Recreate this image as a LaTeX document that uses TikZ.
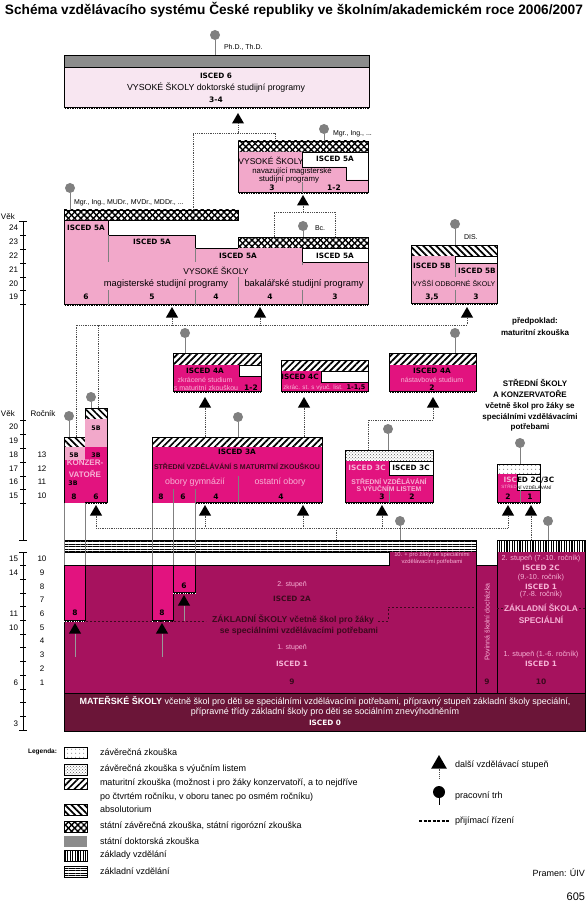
\documentclass[tikz,border=0pt]{standalone}
\usepackage{fontspec}
\setmainfont{Liberation Sans}
\newfontfamily\hv{DejaVu Sans}
\usetikzlibrary{patterns,patterns.meta,shapes.geometric}
\definecolor{pkA}{HTML}{F8E6F1}
\definecolor{pkL}{HTML}{F2A8CA}
\definecolor{mag}{HTML}{E2137F}
\definecolor{berry}{HTML}{A6125E}
\definecolor{maroon}{HTML}{6B1538}
\definecolor{gbar}{HTML}{8C8C8C}
\definecolor{gdot}{HTML}{808080}
\definecolor{ltx}{HTML}{F7B3D6}
\definecolor{dtx}{HTML}{3C0A1E}
\tikzset{
  x=1pt, y=-1pt,
  every node/.style={inner sep=0pt, outer sep=0pt},
  ol/.style={draw=black, line width=0.9pt},
  div/.style={draw=black!50, line width=0.5pt},
  tri/.style={regular polygon, regular polygon sides=3, fill=black, minimum size=14pt},
  pnt/.style={circle, fill=gdot, minimum size=10pt},
  stalk/.style={draw=gdot, line width=0.8pt},
  conn/.style={draw=black!70, line width=0.7pt, dash pattern=on 0.7pt off 1.1pt},
  dsh/.style={draw=dtx, line width=0.6pt, dash pattern=on 2pt off 2pt},
  axl/.style={draw=black, line width=0.9pt},
  isc/.style={font=\hv\bfseries\fontsize{7.3}{8}\selectfont},
  num/.style={font=\hv\bfseries\fontsize{7.5}{8}\selectfont},
  nm/.style={font=\fontsize{8.5}{9}\selectfont},
  pg/.style={font=\fontsize{9.3}{10}\selectfont},
  sm/.style={font=\fontsize{7}{8}\selectfont},
  lab/.style={font=\fontsize{7}{8}\selectfont, anchor=west},
  ax/.style={font=\fontsize{8}{9}\selectfont},
  leg/.style={font=\fontsize{9}{10}\selectfont, anchor=west},
  sb/.style={font=\bfseries\fontsize{8}{9}\selectfont},
  mat/.style={pattern={Lines[angle=45,distance=4.6pt,line width=1.7pt]}},
  absl/.style={pattern={Lines[angle=-45,distance=4.6pt,line width=1.7pt]}},
  vlin/.style={pattern={Lines[angle=90,distance=2.6pt,line width=1.2pt]}},
  hlin/.style={pattern={Lines[angle=0,distance=2.4pt,line width=0.9pt]}},
  sdot/.style={pattern={Dots[distance=4pt,radius=0.5pt]}, pattern color=black!70},
  cdot/.style={pattern=crosshatch dots, pattern color=black!65},
}
\newcommand\perf[3]{\draw[line width=2.4pt] (#1,#3) -- (#2,#3);
  \draw[white,line width=0.8pt,dash pattern=on 0.8pt off 1.6pt] (#1,#3+0.3) -- (#2,#3+0.3);}
\newcommand\patbar[5]{\fill[white] (#1,#2) rectangle (#3,#4); \fill[#5] (#1,#2) rectangle (#3,#4); \draw[ol] (#1,#2) rectangle (#3,#4);}
\newcommand\xbar[4]{\fill[white] (#1,#2) rectangle (#3,#4);
  \fill[pattern={Lines[angle=45,distance=4.4pt,line width=1.4pt]}] (#1,#2) rectangle (#3,#4);
  \fill[pattern={Lines[angle=-45,distance=4.4pt,line width=1.4pt]}] (#1,#2) rectangle (#3,#4);
  \draw[ol] (#1,#2) rectangle (#3,#4);}
\newcommand\uparr[3]{\node[tri] (#1) at (#2,#3+7) {};}
\newcommand\pnt[3]{\node[pnt] (#1) at (#2,#3) {};}
\begin{document}
\begin{tikzpicture}
\useasboundingbox (0,0) rectangle (586,909);
\fill[white] (0,0) rectangle (586,909);

% title
\node (title) at (294,10) {\resizebox{578pt}{!}{\bfseries Schéma vzdělávacího systému České republiky ve školním/akademickém roce 2006/2007}};

% ---------- ISCED 6
\fill[gbar] (64,55) rectangle (369,67);
\fill[pkA] (64,67) rectangle (369,108);
\draw[ol] (64,55) rectangle (369,108);
\draw[ol] (64,67) -- (369,67);
\perf{64}{369}{108}
\node[isc] (i6) at (216,76) {ISCED 6};
\node[nm,font=\fontsize{8.8}{9}\selectfont] (i6n) at (216,88) {VYSOKÉ ŠKOLY doktorské studijní programy};
\node[num] (i6y) at (216,100) {3-4};
\pnt{c6}{215}{35}
\draw[stalk] (c6) -- (215,55);
\node[lab] (l6) at (224,47) {Ph.D., Th.D.};
\uparr{A6}{238}{113}

% ---------- 5A navazujici
\xbar{238}{141}{368}{152}
\fill[pkL] (238,152) -- (302,152) -- (302,167) -- (346,167) -- (346,180) -- (368,180) -- (368,193) -- (238,193) -- cycle;
\draw[ol] (238,141) -- (238,193);
\draw[ol] (368,141) -- (368,193);
\draw[ol] (302,152) -- (302,167) -- (346,167) -- (346,180) -- (368,180);
\perf{238}{368}{193}
\draw[div] (302,182) -- (302,193);
\node[nm] (n5t) at (271,161) {VYSOKÉ ŠKOLY};
\node[isc] (n5i) at (335,159) {ISCED 5A};
\node[sm,font=\fontsize{7.8}{8}\selectfont] (n5a) at (292,171) {navazující magisterské};
\node[sm,font=\fontsize{7.8}{8}\selectfont] (n5b) at (289,179) {studijní programy};
\node[num] (n5y1) at (272,188) {3};
\node[num] (n5y2) at (334,188) {1-2};
\pnt{c5n}{324}{129}
\draw[stalk] (c5n) -- (324,141);
\node[lab] (l5n) at (333,134) {Mgr., Ing., ...};
\uparr{A5n}{303}{195}

% ---------- VS main
\xbar{64}{210}{238}{220}
\xbar{238}{237}{368}{248}
\fill[pkL] (64,220) -- (108,220) -- (108,235) -- (195,235) -- (195,248) -- (302,248) -- (302,262) -- (368,262) -- (368,305) -- (64,305) -- cycle;
\draw[ol] (64,220) -- (108,220) -- (108,235) -- (195,235) -- (195,248) -- (238,248);
\draw[ol] (302,248) -- (302,262) -- (368,262);
\draw[ol] (64,210) -- (64,305);
\draw[ol] (368,237) -- (368,305);
\perf{64}{368}{305}
\draw[div] (108,235) -- (108,262) (108,290) -- (108,305);
\draw[div] (195,248) -- (195,262) (195,290) -- (195,305);
\draw[div] (238,277) -- (238,305);
\draw[div] (302,262) -- (302,265) (302,290) -- (302,305);
\node[isc] (v1) at (86,228) {ISCED 5A};
\node[isc] (v2) at (152,242) {ISCED 5A};
\node[isc] (v3) at (238,256) {ISCED 5A};
\node[isc] (v4) at (335,256) {ISCED 5A};
\node[nm] (vn) at (216,271) {VYSOKÉ ŠKOLY};
\node[pg] (vm) at (166,284) {magisterské studijní programy};
\node[pg] (vb) at (304,284) {bakalářské studijní programy};
\node[num] (vy1) at (86,297) {6};
\node[num] (vy2) at (152,297) {5};
\node[num] (vy3) at (216,297) {4};
\node[num] (vy4) at (270,297) {4};
\node[num] (vy5) at (335,297) {3};
\pnt{cvs}{70}{188}
\draw[stalk] (cvs) -- (70,210);
\node[lab] (lvs) at (74,203) {Mgr., Ing., MUDr., MVDr., MDDr., ...};
\pnt{cbc}{303}{226}
\draw[stalk] (cbc) -- (303,237);
\node[lab] (lbc) at (315,228) {Bc.};

% ---------- VOS
\patbar{411}{245}{497}{256}{absl}
\fill[pkL] (411,256) -- (455,256) -- (455,263) -- (497,263) -- (497,304) -- (411,304) -- cycle;
\draw[ol] (411,245) -- (411,304);
\draw[ol] (497,245) -- (497,304);
\draw[ol] (455,256) -- (455,263) -- (497,263);
\perf{411}{497}{304}
\draw[div] (455,263) -- (455,277) (455,290) -- (455,304);
\node[isc] (o1) at (432,266) {ISCED 5B};
\node[isc] (o2) at (477,271) {ISCED 5B};
\node[sm] (on) at (454,283) {VYŠŠÍ ODBORNÉ ŠKOLY};
\node[num] (oy1) at (432,297) {3,5};
\node[num] (oy2) at (476,297) {3};
\pnt{cvos}{455}{224}
\draw[stalk] (cvos) -- (455,245);
\node[lab] (lvos) at (464,237) {DIS.};

% arrows below VS / VOS
\uparr{Av1}{172}{307}
\uparr{Av2}{260}{307}
\uparr{Avo}{467}{307}

\node[sb] (pr1) at (535,321) {předpoklad:};
\node[sb] (pr2) at (535,333) {maturitní zkouška};

% ---------- 4A zkracene
\patbar{173}{353}{261}{365}{mat}
\fill[mag] (173,365) -- (239,365) -- (239,376) -- (261,376) -- (261,392) -- (173,392) -- cycle;
\draw[ol] (173,353) -- (173,392);
\draw[ol] (261,353) -- (261,392);
\draw[ol] (239,365) -- (239,376) -- (261,376);
\perf{173}{261}{392}
\node[isc] (a1) at (205,371) {ISCED 4A};
\node[sm,ltx] (a2) at (205,380) {zkrácené studium};
\node[sm,ltx] (a3) at (206,388) {s maturitní zkouškou};
\node[num] (a4) at (251,388) {1-2};
\pnt{c4a}{185}{333}
\draw[stalk] (c4a) -- (185,353);
\uparr{A4a}{205}{397}

% ---------- 4C
\patbar{281}{360}{368}{371}{mat}
\fill[mag] (281,371) -- (321,371) -- (321,382) -- (368,382) -- (368,392) -- (281,392) -- cycle;
\draw[ol] (281,360) -- (281,392);
\draw[ol] (368,360) -- (368,392);
\draw[ol] (321,371) -- (321,382) -- (368,382);
\perf{281}{368}{392}
\node[isc] (b1) at (300,377) {ISCED 4C};
\node[sm,ltx,font=\fontsize{6.3}{7}\selectfont] (b2) at (313,388) {zkrác. st. s výuč. list.};
\node[num,font=\hv\bfseries\fontsize{6.5}{7}\selectfont] (b3) at (356,388) {1-1,5};
\uparr{A4c}{304}{397}

% ---------- 4A nastavbove
\patbar{389}{353}{476}{365}{mat}
\fill[mag] (389,365) rectangle (476,392);
\draw[ol] (389,353) -- (389,392);
\draw[ol] (476,353) -- (476,392);
\perf{389}{476}{392}
\node[isc] (d1) at (432,371) {ISCED 4A};
\node[sm,ltx] (d2) at (432,380) {nástavbové studium};
\node[num] (d3) at (432,388) {2};
\pnt{c4n}{455}{333}
\draw[stalk] (c4n) -- (455,353);
\uparr{A4n}{433}{397}

% SS heading
\node[sb] (s1) at (535,383) {STŘEDNÍ ŠKOLY};
\node[sb] (s2) at (530,394) {A KONZERVATOŘE};
\node[sb] (s3) at (530,406) {včetně škol pro žáky se};
\node[sb] (s4) at (530,417) {speciálními vzdělávacími};
\node[sb] (s5) at (530,427) {potřebami};

% ---------- konzervatore
\patbar{64}{437}{85}{447}{absl}
\patbar{85}{408}{107}{419}{absl}
\fill[pkL] (64,447) rectangle (85,460);
\fill[mag] (64,460) rectangle (85,503);
\fill[pkL] (85,419) rectangle (107,447);
\fill[mag] (85,447) rectangle (107,503);
\draw[ol] (64,437) -- (64,503);
\draw[ol] (107,408) -- (107,503);
\perf{85}{107}{503}
\node[num,font=\hv\bfseries\fontsize{6.3}{7}\selectfont] (k1) at (96,428) {5B};
\node[num,font=\hv\bfseries\fontsize{6.3}{7}\selectfont] (k2) at (74,455) {5B};
\node[num,font=\hv\bfseries\fontsize{6.3}{7}\selectfont] (k3) at (96,455) {3B};
\node[sb,ltx] (k4) at (85,463) {KONZER-};
\node[sb,ltx] (k5) at (85,474) {VATOŘE};
\node[num,font=\hv\bfseries\fontsize{6.3}{7}\selectfont] (k6) at (73,483) {3B};
\node[num] (k7) at (74,497) {8};
\node[num] (k8) at (96,497) {6};
\pnt{ck1}{69}{416}
\draw[stalk] (ck1) -- (69,437);
\pnt{ck2}{91}{397}
\draw[stalk] (ck2) -- (91,408);

% ---------- 3A
\patbar{152}{437}{322}{447}{mat}
\fill[mag] (152,447) rectangle (322,503);
\draw[ol] (152,437) -- (152,503);
\draw[ol] (322,437) -- (322,503);
\perf{195}{322}{503}
\draw[div] (238,476) -- (238,503);
\node[isc] (e1) at (237,452) {ISCED 3A};
\node[font=\bfseries\fontsize{7}{8}\selectfont, dtx] (e2) at (237,466) {STŘEDNÍ VZDĚLÁVÁNÍ S MATURITNÍ ZKOUŠKOU};
\node[pg,ltx,font=\fontsize{8.8}{9}\selectfont] (e3) at (195,482) {obory gymnázií};
\node[pg,ltx,font=\fontsize{8.8}{9}\selectfont] (e4) at (280,482) {ostatní obory};
\node[num] (e5) at (161,497) {8};
\node[num] (e6) at (183,497) {6};
\node[num] (e7) at (216,497) {4};
\node[num] (e8) at (281,497) {4};
\pnt{c3a}{238}{417}
\draw[stalk] (c3a) -- (238,437);

% ---------- 3C
\patbar{345}{450}{433}{461}{cdot}
\fill[mag] (345,461) -- (389,461) -- (389,475) -- (433,475) -- (433,503) -- (345,503) -- cycle;
\draw[ol] (345,450) -- (345,503);
\draw[ol] (433,450) -- (433,503);
\draw[ol] (389,461) -- (389,475) -- (433,475);
\perf{345}{433}{503}
\draw[div] (389,490) -- (389,503);
\node[isc,ltx] (f1) at (367,468) {ISCED 3C};
\node[isc] (f2) at (411,468) {ISCED 3C};
\node[font=\bfseries\fontsize{6.8}{7}\selectfont, ltx] (f3) at (389,481) {STŘEDNÍ VZDĚLÁVÁNÍ};
\node[font=\bfseries\fontsize{6.8}{7}\selectfont, ltx] (f4) at (389,488) {S VÝUČNÍM LISTEM};
\node[num] (f5) at (382,497) {3};
\node[num] (f6) at (412,497) {2};
\pnt{c3c}{388}{429}
\draw[stalk] (c3c) -- (388,450);

% ---------- 2C/3C
\patbar{497}{464}{540}{474}{sdot}
\fill[mag] (497,474) -- (517,474) -- (517,490) -- (540,490) -- (540,503) -- (497,503) -- cycle;
\draw[ol] (497,464) -- (497,503);
\draw[ol] (540,464) -- (540,503);
\draw[ol] (517,474) -- (517,490) -- (540,490);
\perf{497}{540}{503}
\draw[div] (520,490) -- (520,503);
\node[isc,ltx,anchor=east] (g1) at (517,480) {ISC};
\node[isc,anchor=west] (g2) at (517,480) {ED 2C/3C};
\node[ltx,anchor=east,font=\fontsize{4.6}{5}\selectfont] (g3) at (517,487) {STŘED};
\node[anchor=west,font=\fontsize{4.6}{5}\selectfont] (g4) at (517,487) {NÍ VZDĚLÁVÁNÍ};
\node[num] (g5) at (508,497) {2};
\node[num] (g6) at (530,497) {1};
\pnt{c2c}{520}{443}
\draw[stalk] (c2c) -- (520,464);

% SS arrows
\uparr{Ak}{96}{505}
\uparr{A3a}{205}{505}
\uparr{A3o}{303}{505}
\uparr{A3c}{382}{505}
\uparr{A2a}{508}{505}
\uparr{A2b}{531}{505}
\pnt{czs}{400}{521}
\draw[stalk] (czs) -- (400,540);
\pnt{czss}{548}{521}
\draw[stalk] (czss) -- (548,540);

% ---------- ZS bars
\patbar{64}{540}{476}{552}{hlin}
\patbar{497}{540}{585}{552}{vlin}
\draw[div] (64,503) -- (64,565) (85,503) -- (85,565) (152,503) -- (152,565) (173,489) -- (173,565) (195,489) -- (195,565);

% ---------- ZS block
\fill[berry] (64,565) -- (389,565) -- (389,552) -- (476,552) -- (476,693) -- (64,693) -- cycle;
\fill[berry] (476,565) rectangle (497,693);
\fill[berry] (497,552) rectangle (585,693);
\fill[mag] (64,565) rectangle (85,621);
\fill[mag] (152,565) rectangle (173,621);
\fill[mag] (173,565) rectangle (195,593);
\draw[ol] (64,693) -- (64,565) -- (389,565) -- (389,552);
\draw[ol] (476,552) -- (476,693);
\draw[ol] (476,565) -- (497,565);
\draw[ol] (497,552) -- (497,693);
\draw[ol] (585,552) -- (585,693);
\draw[line width=0.6pt] (85,565) -- (85,621) (152,565) -- (152,621) (173,565) -- (173,621) (195,565) -- (195,593);
\perf{64}{85}{621}
\perf{152}{173}{621}
\perf{173}{195}{593}
\draw[dsh] (86,621) -- (206,621);
\draw[dsh] (378,621) -- (388,621) -- (388,607) -- (476,607);
\draw[dsh] (497,608) -- (503,608) (579,608) -- (585,608);
\node[num] (z1) at (75,613) {8};
\node[num] (z2) at (162,613) {8};
\node[num] (z3) at (184,586) {6};
\uparr{Az1}{75}{623}
\uparr{Az2}{162}{623}
\uparr{Az3}{184}{595}
\draw[div,draw=black!40] (Az1.south) -- (75,657) (Az2.south) -- (162,657) (Az3.south) -- (184,621);
\node[ltx,font=\fontsize{5.8}{6.3}\selectfont,align=center] (z10) at (432,558.5) {10. + pro žáky se speciálními\\vzdělávacími potřebami};
\node[ltx,font=\fontsize{7}{8}\selectfont] (z4) at (292,585) {2. stupeň};
\node[isc,dtx] (z5) at (292,599) {ISCED 2A};
\node[font=\bfseries\fontsize{8.6}{9}\selectfont, dtx] (z6) at (293,620) {ZÁKLADNÍ ŠKOLY včetně škol pro žáky};
\node[font=\bfseries\fontsize{8.6}{9}\selectfont, dtx] (z7) at (299,631) {se speciálními vzdělávacími potřebami};
\node[ltx,font=\fontsize{7}{8}\selectfont] (z8) at (292,648) {1. stupeň};
\node[isc,ltx] (z9) at (292,664) {ISCED 1};
\node[num,dtx] (z11) at (292,682) {9};
\node[ltx,font=\fontsize{7}{8}\selectfont,rotate=90] (pov) at (487,622) {Povinná školní docházka};
\node[num,dtx] (z12) at (487,682) {9};
\node[ltx,font=\fontsize{7.3}{8}\selectfont] (p1) at (541,559) {2. stupeň (7.-10. ročník)};
\node[isc,ltx] (p2) at (541,568) {ISCED 2C};
\node[ltx,font=\fontsize{7.3}{8}\selectfont] (p3) at (541,578) {(9.-10. ročník)};
\node[isc,ltx] (p4) at (541,587) {ISCED 1};
\node[ltx,font=\fontsize{7.3}{8}\selectfont] (p5) at (541,595) {(7.-8. ročník)};
\node[ltx,font=\bfseries\fontsize{8.3}{9}\selectfont] (p6) at (541,608) {ZÁKLADNÍ ŠKOLA};
\node[ltx,font=\bfseries\fontsize{8.3}{9}\selectfont] (p7) at (541,620) {SPECIÁLNÍ};
\node[ltx,font=\fontsize{7.3}{8}\selectfont] (p8) at (541,655) {1. stupeň (1.-6. ročník)};
\node[isc,ltx] (p9) at (541,664) {ISCED 1};
\node[num,dtx] (p10) at (541,682) {10};

% ---------- MS
\fill[maroon] (64,693) rectangle (585,731);
\draw[ol] (64,693) rectangle (585,731);
\node[white,font=\fontsize{9}{10}\selectfont] (m1) at (325,701) {\textbf{MATEŘSKÉ ŠKOLY} včetně škol pro děti se speciálními vzdělávacími potřebami, přípravný stupeň základní školy speciální,};
\node[white,font=\fontsize{9}{10}\selectfont] (m2) at (325,712) {přípravné třídy základní školy pro děti se sociálním znevýhodněním};
\node[white,isc] (m3) at (325,723) {ISCED 0};

% ---------- connectors
\coordinate (q1) at (193,133);
\coordinate (q2) at (275,133);
\draw[conn] (A6.south) -- (A6.south |- q1);
\draw[conn] (193,210) -- (q1) -- (q2) -- (275,141);
\coordinate (q3) at (274,212);
\coordinate (q4) at (335,212);
\draw[conn] (A5n.south) -- (A5n.south |- q3);
\draw[conn] (274,237) -- (q3) -- (q4) -- (335,237);
\coordinate (q5) at (76,325);
\coordinate (q6) at (467,325);
\draw[conn] (76,437) -- (q5) -- (q6) -- (Avo.south);
\draw[conn] (Av1.south) -- (Av1.south |- q5);
\draw[conn] (Av2.south) -- (Av2.south |- q5);
\draw[conn] (98,408) -- (98,325);
\draw[conn] (A4a.south) -- (205,437);
\draw[conn] (A4c.south) -- (304,437);
\coordinate (q7) at (433,420);
\coordinate (q8) at (368,420);
\draw[conn] (A4n.south) -- (q7) -- (q8) -- (368,450);
\coordinate (q9) at (96,528);
\coordinate (q10) at (508,528);
\draw[conn] (Ak.south) -- (q9) -- (q10) -- (A2a.south);
\draw[conn] (A3a.south) -- (A3a.south |- q9);
\draw[conn] (A3o.south) -- (A3o.south |- q9);
\draw[conn] (A3c.south) -- (A3c.south |- q9);
\draw[conn] (336,528) -- (336,540);
\draw[conn] (A2b.south) -- (531,540);

% ---------- axis
\draw[axl] (23,221) -- (23,540);
\draw[axl] (19,221) -- (27,221) (19,540) -- (27,540);
\foreach \yy in {235,249,263,277,290,304,420,434,448,462,476,489,503} {\draw[axl] (20,\yy) -- (26,\yy);}
\draw[axl] (23,552) -- (23,730);
\draw[axl] (19,552) -- (27,552) (19,730) -- (27,730);
\foreach \k in {1,...,12} {\draw[axl] (20,552+13.7*\k) -- (26,552+13.7*\k);}
\node[ax,anchor=west] (vk1) at (1,217) {Věk};
\foreach \a/\yy in {24/228,23/242,22/256,21/270,20/284,19/297} {\node[ax,anchor=east] (va\a) at (18,\yy) {\a};}
\node[ax,anchor=west] (vk2) at (1,414) {Věk};
\node[ax] (roc) at (43,414) {Ročník};
\foreach \a/\yy in {20/427,19/441,18/455,17/469,16/482,15/496} {\node[ax,anchor=east] (vb\a) at (18,\yy) {\a};}
\foreach \a/\yy in {13/455,12/469,11/482,10/496} {\node[ax] (rb\a) at (42,\yy) {\a};}
\foreach \a/\yy in {15/559,14/573,11/614,10/628,6/683,3/724} {\node[ax,anchor=east] (vc\a) at (18,\yy) {\a};}
\foreach \a in {1,...,10} {\node[ax] (rc\a) at (42,{559+13.7*(10-\a)}) {\a};}

% ---------- legend
\node[font=\bfseries\fontsize{6.5}{7}\selectfont, anchor=east] (lg) at (57,752) {Legenda:};
\patbar{64}{747}{87}{758}{sdot}
\patbar{64}{764}{87}{775}{cdot}
\patbar{64}{778}{87}{789}{mat}
\patbar{64}{804}{87}{815}{absl}
\xbar{64}{821}{87}{832}
\fill[gbar] (64,836) rectangle (87,847);
\patbar{64}{850}{87}{861}{vlin}
\patbar{64}{866}{87}{877}{hlin}
\node[leg] (t1) at (100,752) {závěrečná zkouška};
\node[leg] (t2) at (100,769) {závěrečná zkouška s výučním listem};
\node[leg] (t3) at (100,783) {maturitní zkouška (možnost i pro žáky konzervatoří, a to nejdříve};
\node[leg] (t4) at (100,797) {po čtvrtém ročníku, v oboru tanec po osmém ročníku)};
\node[leg] (t5) at (100,809) {absolutorium};
\node[leg] (t6) at (100,826) {státní závěrečná zkouška, státní rigorózní zkouška};
\node[leg] (t7) at (100,841) {státní doktorská zkouška};
\node[leg] (t8) at (100,855) {základy vzdělání};
\node[leg] (t9) at (100,871) {základní vzdělání};
\node[regular polygon, regular polygon sides=3, fill=black, minimum size=18pt] (lt) at (439,764) {};
\draw[conn] (lt.south) -- (439,778);
\node[leg] (t10) at (455,765) {další vzdělávací stupeň};
\node[circle, fill=black, minimum size=12pt] (lc) at (439,792) {};
\draw[line width=0.8pt] (lc) -- (439,805);
\node[leg] (t11) at (455,796) {pracovní trh};
\draw[line width=1.2pt, dash pattern=on 3pt off 1.5pt] (419,821) -- (450,821);
\node[leg] (t12) at (455,821) {přijímací řízení};
\node[leg,anchor=east] (src) at (585,873) {Pramen: ÚIV};
\node[font=\fontsize{11}{12}\selectfont, anchor=east] (pg605) at (585,897) {605};
\end{tikzpicture}
\end{document}
